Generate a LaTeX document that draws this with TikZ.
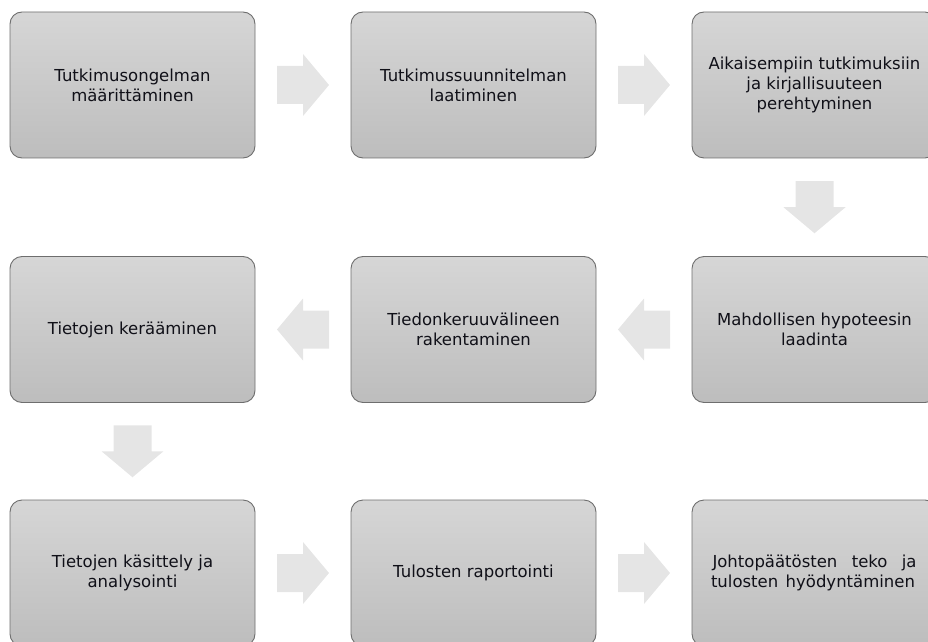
\documentclass[tikz,border=0pt]{standalone}
\usepackage{fontspec}
\setmainfont{DejaVu Sans}
\usetikzlibrary{calc}
\definecolor{boxtop}{HTML}{D6D6D6}
\definecolor{boxbot}{HTML}{BDBDBD}
\definecolor{boxline}{HTML}{6E6E6E}
\definecolor{arrowfill}{HTML}{E5E5E5}
\definecolor{txt}{HTML}{101018}
\tikzset{
  stepbox/.style={rectangle, rounded corners=12pt, minimum width=245pt,
    minimum height=146pt, top color=boxtop, bottom color=boxbot,
    draw=boxline, line width=0.9pt, align=center, text=txt,
    font=\fontsize{16.5}{20}\selectfont, inner sep=0pt},
  % block arrow pointing right, centred on the placement point
  pics/flowarrow/.style={code={
    \fill[arrowfill] (-26pt,-19pt) -- (0pt,-19pt) -- (0pt,-31pt) -- (26pt,0pt)
      -- (0pt,31pt) -- (0pt,19pt) -- (-26pt,19pt) -- cycle;}}
}
\begin{document}
\begin{tikzpicture}[x=1pt,y=1pt]
\useasboundingbox (0,0) rectangle (928,641);
\clip (0,0) rectangle (928,641);

% first row
\node[stepbox] (s1) at (132.5,556) {Tutkimusongelman\\määrittäminen};
\node[stepbox] (s2) at (473.5,556) {Tutkimussuunnitelman\\laatiminen};
\node[stepbox] (s3) at (814.5,556) {Aikaisempiin tutkimuksiin\\ja kirjallisuuteen\\perehtyminen};

% second row
\node[stepbox] (s4) at (814.5,311.5) {Mahdollisen hypoteesin\\laadinta};
\node[stepbox] (s5) at (473.5,311.5) {Tiedonkeruuvälineen\\rakentaminen};
\node[stepbox] (s6) at (132.5,311.5) {Tietojen kerääminen};

% third row
\node[stepbox] (s7) at (132.5,68) {Tietojen käsittely ja\\analysointi};
\node[stepbox] (s8) at (473.5,68) {Tulosten raportointi};
\node[stepbox] (s9) at (814.5,68) {\makebox[204pt][s]{Johtopäätösten teko ja}\\\makebox[204pt][s]{tulosten hyödyntäminen}\hspace*{3pt}};

% block arrows between the steps
\pic at ($(s1.east)!0.5!(s2.west)$) {flowarrow};
\pic at ($(s2.east)!0.5!(s3.west)$) {flowarrow};
\pic[rotate=-90] at ($(s3.south)!0.5!(s4.north)$) {flowarrow};
\pic[rotate=180] at ($(s4.west)!0.5!(s5.east)$) {flowarrow};
\pic[rotate=180] at ($(s5.west)!0.5!(s6.east)$) {flowarrow};
\pic[rotate=-90] at ($(s6.south)!0.5!(s7.north)$) {flowarrow};
\pic at ($(s7.east)!0.5!(s8.west)$) {flowarrow};
\pic at ($(s8.east)!0.5!(s9.west)$) {flowarrow};
\end{tikzpicture}
\end{document}
